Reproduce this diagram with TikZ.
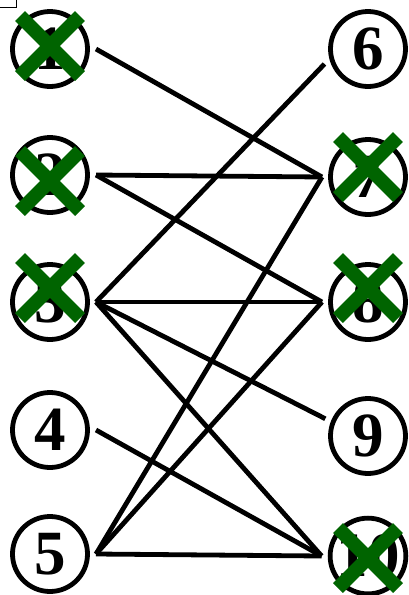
\documentclass[tikz,border=0pt]{standalone}
\usepackage{fontspec}
\setmainfont{Liberation Serif}
\definecolor{crossgreen}{RGB}{0,100,0}
\tikzset{
  vertex/.style={circle, draw=black, line width=4.8pt, minimum size=75pt,
                 inner sep=0pt, outer sep=8.5pt,
                 font=\fontsize{63}{63}\selectfont\bfseries},
  edge/.style={line width=4.8pt, color=black},
  cross/.style={line width=14pt, color=crossgreen},
}
\begin{document}
\begin{tikzpicture}[x=1pt, y=-1pt]
  \useasboundingbox (0,0) rectangle (408,595);
  % corner mark
  \draw[line width=0.8pt] (0,7) -- (16,7) -- (16,0);
  % left column
  \foreach \i/\y in {1/49, 2/175, 3/302, 4/430, 5/554}{
    \node[vertex] (v\i) at (50,\y) {\i};
  }
  % right column
  \foreach \i/\y in {6/49, 7/177, 8/302, 9/436, 10/556}{
    \node[vertex] (v\i) at (368,\y) {\i};
  }
  % edges
  \foreach \a/\b in {1/7, 2/7, 2/8, 3/8, 3/10, 4/10, 5/7, 5/8, 5/10}{
    \draw[edge] (v\a.east) -- (v\b.west);
  }
  \draw[edge] (v3.east) -- (v6.199);
  \draw[edge] (v3.east) -- (v9.158);
  % crossed out vertices
  \foreach \i/\dy in {1/-3, 2/6, 3/-14, 7/-10, 8/-14, 10/2}{
    \draw[cross] ([shift={(0,\dy)}]v\i.center) +(-30,-30) -- +(30,30)
                 +(-30,30) -- +(30,-30);
  }
\end{tikzpicture}
\end{document}
